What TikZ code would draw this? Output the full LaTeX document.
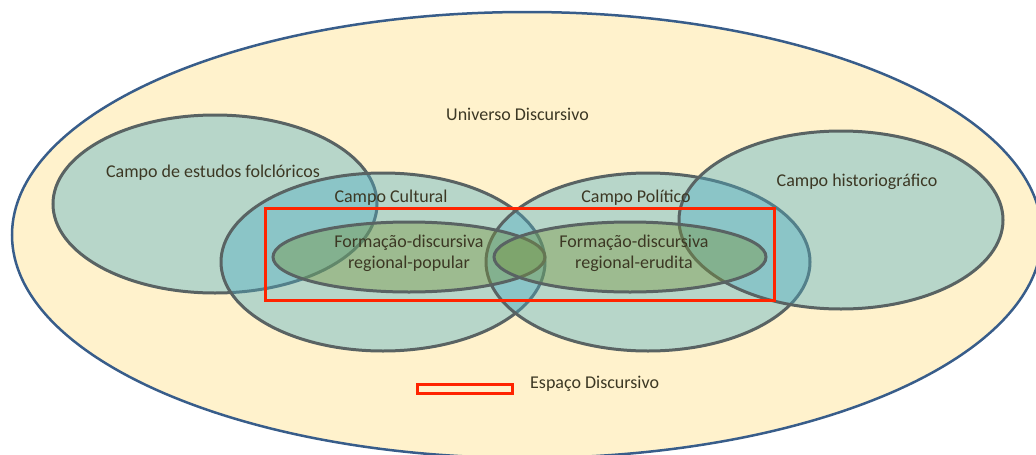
\documentclass[tikz,border=0pt]{standalone}
\usepackage{fontspec}
\setmainfont{Carlito}
\usetikzlibrary{shapes.geometric}
\definecolor{universofill}{RGB}{255, 242, 204}
\definecolor{universoline}{RGB}{56, 93, 138}
\definecolor{campofill}{RGB}{75, 172, 198}
\definecolor{campoline}{RGB}{89, 99, 99}
\definecolor{formacaofill}{RGB}{119, 147, 60}
\definecolor{espacored}{RGB}{255, 36, 0}
\definecolor{textdark}{RGB}{60, 56, 36}

\tikzset{
    campo/.style={ellipse, draw=campoline, line width=3pt, fill=campofill, fill opacity=0.4,
        inner sep=0pt, minimum width=324pt, minimum height=178pt},
    formacao/.style={ellipse, draw=campoline, line width=3pt, fill=formacaofill, fill opacity=0.4,
        inner sep=0pt, minimum width=272pt, minimum height=70pt},
    espacobox/.style={draw=espacored, line width=3pt, inner sep=0pt},
    rotulo/.style={text=textdark, font=\fontsize{18}{21}\selectfont, inner sep=0pt, align=center}
}

\begin{document}
\begin{tikzpicture}[x=1pt, y=-1pt]
    \useasboundingbox (0,0) rectangle (1036,455);

    % universo discursivo
    \node[ellipse, draw=universoline, line width=2.5pt, fill=universofill, inner sep=0pt,
        minimum width=1030pt, minimum height=446pt] (universo) at (527,235) {};

    % campos
    \node[campo] (folclore) at (215,204) {};
    \node[campo] (cultural) at (383,262) {};
    \node[campo] (politico) at (648,262) {};
    \node[campo] (historio) at (841,220) {};

    % formacoes discursivas
    \node[formacao] (popular) at (409,257) {};
    \node[formacao] (erudita) at (630,257) {};

    % espaco discursivo
    \node[espacobox, minimum width=509pt, minimum height=92pt] (espaco) at (519.5,254) {};
    \node[espacobox, minimum width=95pt, minimum height=9pt] (legenda) at (464.5,388.5) {};

    % rotulos
    \node[rotulo] (universotxt) at (517.5,114) {Universo Discursivo};
    \node[rotulo] (folcloretxt) at (213,173) {Campo de estudos folclóricos};
    \node[rotulo] (culturaltxt) at (391,198) {Campo Cultural};
    \node[rotulo] (politicotxt) at (636,198) {Campo Político};
    \node[rotulo] (historiotxt) at (857,182) {Campo historiográfico};
    \node[rotulo] (populartxt) at (409,253) {Formação-discursiva\\regional-popular};
    \node[rotulo] (eruditatxt) at (634,253) {Formação-discursiva\\regional-erudita};
    \node[rotulo, anchor=west] (legendatxt) at (530,384) {Espaço Discursivo};
\end{tikzpicture}
\end{document}
